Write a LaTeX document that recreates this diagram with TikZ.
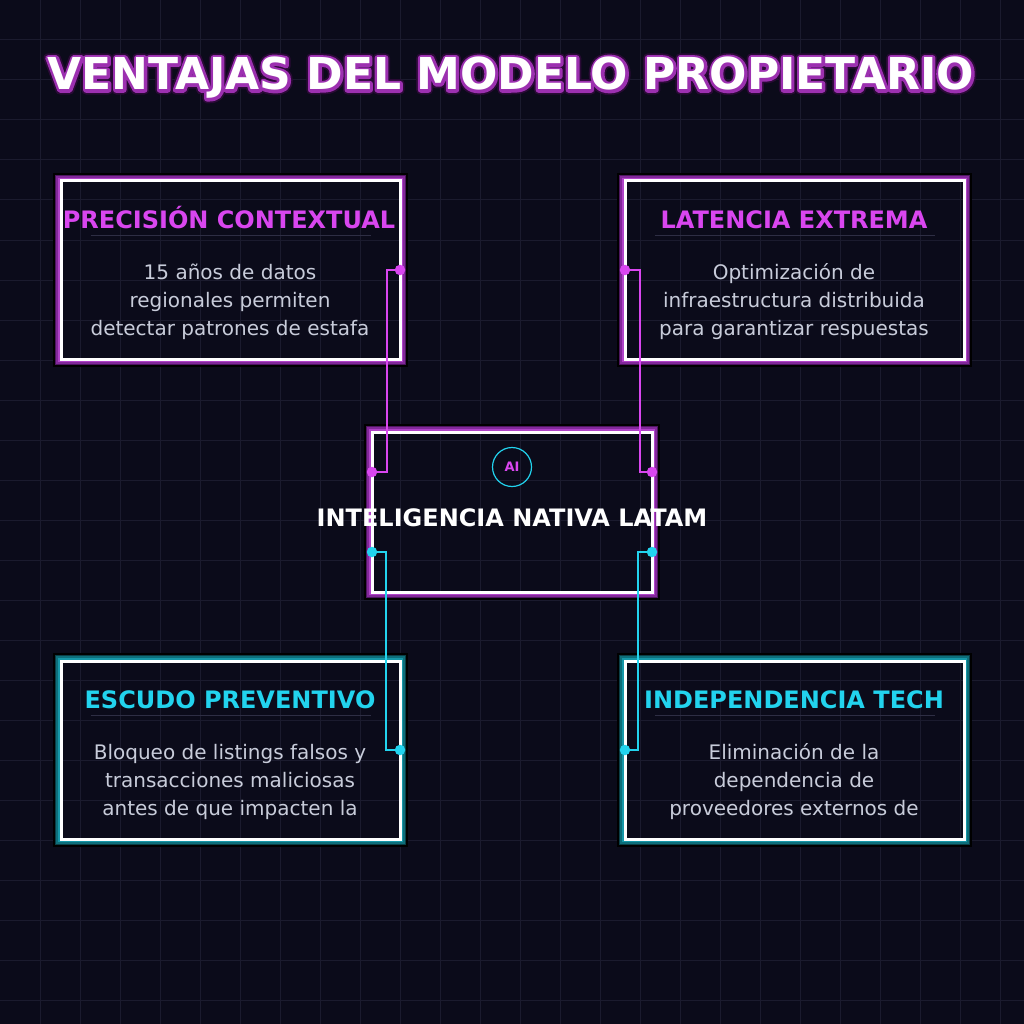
\documentclass[tikz,border=0pt]{standalone}
\usepackage{fontspec}
\setmainfont{DejaVu Sans}
\usetikzlibrary{calc}
\definecolor{bgc}{HTML}{0B0B1A}
\definecolor{gridc}{HTML}{1B1B2E}
\definecolor{mag}{HTML}{D946EF}
\definecolor{cya}{HTML}{22D3EE}
\definecolor{bodyc}{HTML}{C8CCDA}
\definecolor{divc}{HTML}{2E2E44}
\definecolor{mA}{HTML}{4E1660}
\definecolor{mB}{HTML}{82289A}
\definecolor{mC}{HTML}{B042C8}
\definecolor{tA}{HTML}{0A3F47}
\definecolor{tB}{HTML}{0E6E7A}
\definecolor{tC}{HTML}{1597A8}
\definecolor{tdark}{HTML}{2A0A35}
\definecolor{tpurp}{HTML}{9B30B0}
% outlined text: fill + stroke (text render mode 2), stroke width #1, stroke rgb #2
\newcommand{\outlined}[3]{\special{pdf:literal direct q 2 Tr #1 w 1 j #2 RG}#3\special{pdf:literal direct Q}}
\newcommand{\glowframe}[4]{%
  \draw[#4, line width=2pt] ($(#1.south west)+(-2.5,2.5)$) rectangle ($(#1.north east)+(2.5,-2.5)$);
  \draw[#3, line width=1.6pt] ($(#1.south west)+(-4.25,4.25)$) rectangle ($(#1.north east)+(4.25,-4.25)$);
  \draw[#2, line width=1.6pt] ($(#1.south west)+(-5.75,5.75)$) rectangle ($(#1.north east)+(5.75,-5.75)$);
  \draw[black, line width=1.6pt] ($(#1.south west)+(-7.25,7.25)$) rectangle ($(#1.north east)+(7.25,-7.25)$);
}
\tikzset{
  framebox/.style={rectangle, inner sep=0pt, outer sep=0pt, draw=white, line width=3pt},
  card/.style={framebox, minimum width=339pt, minimum height=178pt},
  ctitle/.style={font=\fontsize{24pt}{28pt}\selectfont\bfseries, text=#1, anchor=base},
  cbody/.style={font=\fontsize{20pt}{28pt}\selectfont, text=bodyc, align=center},
  divider/.style={draw=divc, line width=1pt},
  conn/.style={draw=#1, line width=2pt},
  dot/.style={circle, fill=#1, inner sep=0pt, minimum size=10.5pt},
  bigtitle/.style={font=\fontsize{44pt}{50pt}\selectfont\bfseries, anchor=base},
}
\begin{document}
\begin{tikzpicture}[x=1pt,y=-1pt]
\fill[bgc] (0,0) rectangle (1024,1024);
\useasboundingbox (0,0) rectangle (1024,1024);
\foreach \g in {40,80,...,1000}{
  \draw[gridc, line width=1pt] (\g,0) -- (\g,1024);
  \draw[gridc, line width=1pt] (0,\g) -- (1024,\g);
}
% title
\node[bigtitle, text=tdark] (titleglow) at (511,90) {\outlined{9}{0.165 0.04 0.21}{VENTAJAS DEL MODELO PROPIETARIO}};
\node[bigtitle, text=tpurp] (titleedge) at (511,90) {\outlined{5.5}{0.61 0.19 0.69}{VENTAJAS DEL MODELO PROPIETARIO}};
\node[bigtitle, text=white] (title) at (511,90) {VENTAJAS DEL MODELO PROPIETARIO};

% cards
\node[card] (tl) at (230.5,270) {};
\node[card] (tr) at (794.5,270) {};
\node[card] (bl) at (230.5,750) {};
\node[card] (br) at (794.5,750) {};
\node[framebox, minimum width=280pt, minimum height=160pt] (c) at (512,512) {};
\glowframe{tl}{mA}{mB}{mC}
\glowframe{tr}{mA}{mB}{mC}
\glowframe{bl}{tA}{tB}{tC}
\glowframe{br}{tA}{tB}{tC}
\glowframe{c}{mA}{mB}{mC}

% card texts
\node[ctitle=mag] (tlt) at (229,228.5) {PRECISIÓN CONTEXTUAL};
\draw[divider] ($(tl.center)+(-140,-34.5)$) coordinate (tld1) -- ($(tl.center)+(140,-34.5)$) coordinate (tld2);
\node[cbody] (tlb) at (230,302) {15 años de datos\\regionales permiten\\detectar patrones de estafa};

\node[ctitle=mag] (trt) at (794,228.5) {LATENCIA EXTREMA};
\draw[divider] ($(tr.center)+(-140,-34.5)$) coordinate (trd1) -- ($(tr.center)+(140,-34.5)$) coordinate (trd2);
\node[cbody] (trb) at (794,302) {Optimización de\\infraestructura distribuida\\para garantizar respuestas};

\node[ctitle=cya] (blt) at (230,708.5) {ESCUDO PREVENTIVO};
\draw[divider] ($(bl.center)+(-140,-34.5)$) coordinate (bld1) -- ($(bl.center)+(140,-34.5)$) coordinate (bld2);
\node[cbody] (blb) at (230,782) {Bloqueo de listings falsos y\\transacciones maliciosas\\antes de que impacten la};

\node[ctitle=cya] (brt) at (794,708.5) {INDEPENDENCIA TECH};
\draw[divider] ($(br.center)+(-140,-34.5)$) coordinate (brd1) -- ($(br.center)+(140,-34.5)$) coordinate (brd2);
\node[cbody] (brb) at (794,782) {Eliminación de la\\dependencia de\\proveedores externos de};

% center
\node[circle, draw=cya, line width=1.2pt, minimum size=39pt, inner sep=0pt,
      font=\fontsize{13pt}{15pt}\selectfont\bfseries, text=mag] (ai) at (512,467) {AI};
\node[font=\fontsize{24pt}{28pt}\selectfont\bfseries, text=white, anchor=base] (ct) at (512,526) {INTELIGENCIA NATIVA LATAM};

% connectors
\coordinate (cL1) at ($(c.west)+(0,-40)$);
\coordinate (cR1) at ($(c.east)+(0,-40)$);
\coordinate (cL2) at ($(c.west)+(0,40)$);
\coordinate (cR2) at ($(c.east)+(0,40)$);
\draw[conn=mag] (tl.east) -- ($(tl.east)+(-13,0)$) |- (cL1);
\draw[conn=mag] (tr.west) -- ($(tr.west)+(15,0)$) |- (cR1);
\draw[conn=cya] (cL2) -- ($(cL2)+(14,0)$) |- (bl.east);
\draw[conn=cya] (cR2) -- ($(cR2)+(-14,0)$) |- (br.west);
\node[dot=mag] (d1) at (tl.east) {};
\node[dot=mag] (d2) at (cL1) {};
\node[dot=mag] (d3) at (tr.west) {};
\node[dot=mag] (d4) at (cR1) {};
\node[dot=cya] (d5) at (cL2) {};
\node[dot=cya] (d6) at (bl.east) {};
\node[dot=cya] (d7) at (cR2) {};
\node[dot=cya] (d8) at (br.west) {};
\end{tikzpicture}
\end{document}
